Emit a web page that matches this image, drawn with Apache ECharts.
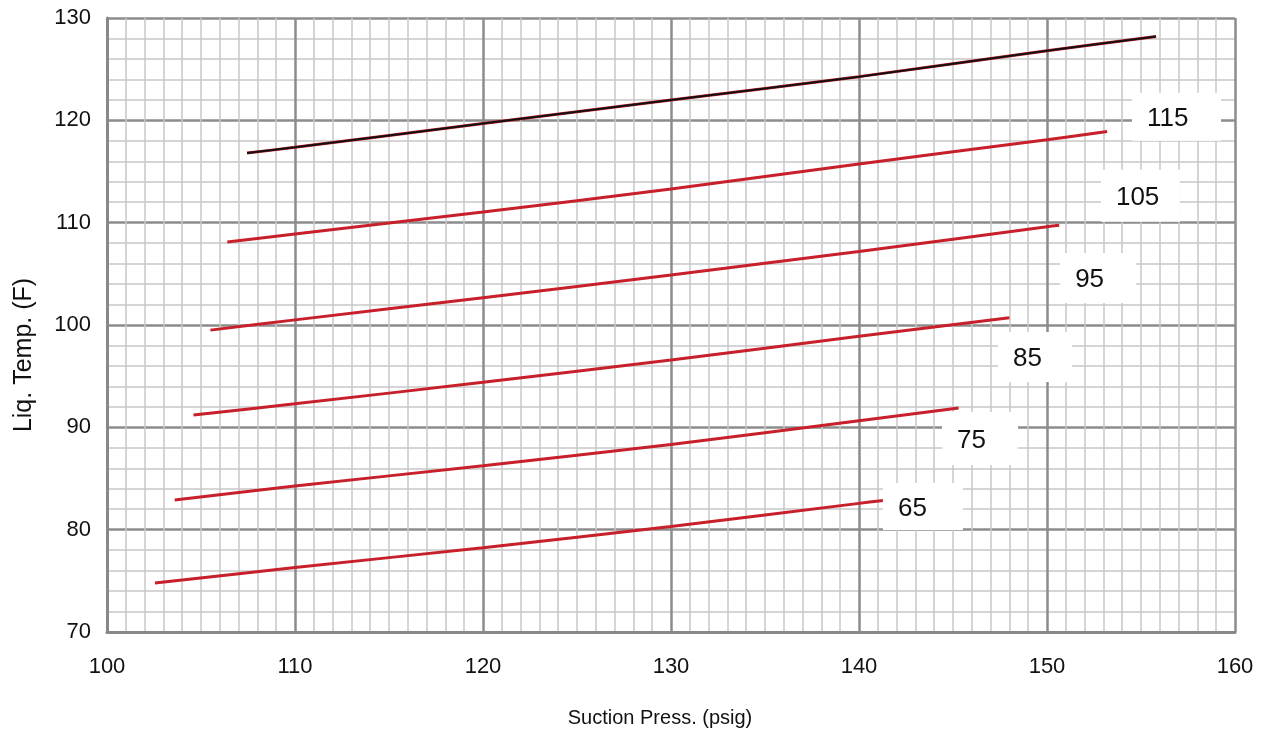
<!DOCTYPE html>
<html>
<head>
<meta charset="utf-8">
<script src="https://cdn.jsdelivr.net/npm/echarts@6/dist/echarts.min.js"></script>
<style>html,body{margin:0;padding:0;background:#fff}#c{width:1267px;height:738px}</style>
</head>
<body>
<div id="c"></div>
<script>
// Curve data: suction pressure (psig) vs liquid temperature (F), per outdoor temp
const press65  = [102.55, 110, 120, 130, 140, 141.3];
const temp65   = [74.79, 76.3, 78.24, 80.3, 82.57, 82.85];
const press75  = [103.6, 110, 120, 130, 140, 145.3];
const temp75   = [82.9, 84.26, 86.25, 88.33, 90.65, 91.9];
const press85  = [104.6, 110, 120, 130, 140, 148.0];
const temp85   = [91.2, 92.3, 94.4, 96.58, 98.9, 100.7];
const press95  = [105.5, 110, 120, 130, 140, 150, 150.65];
const temp95   = [99.5, 100.5, 102.67, 104.88, 107.19, 109.6, 109.75];
const press105 = [106.4, 110, 120, 130, 140, 150, 153.2];
const temp105  = [108.1, 108.9, 111.04, 113.29, 115.74, 118.1, 118.9];
const press115 = [107.45, 110, 120, 130, 140, 150, 155.8];
const temp115  = [116.8, 117.36, 119.68, 121.99, 124.27, 126.8, 128.2];

// Curve label annotations (anchor in data coordinates)
const labelText  = ['115', '105', '95', '85', '75', '65'];
const labelPress = [156.89, 154.97, 152.72, 149.36, 146.44, 143.40];
const labelTemp  = [120.34, 112.62, 104.6, 96.88, 88.92, 82.27];

const xTicks = [100, 110, 120, 130, 140, 150, 160];
const yTicks = [70, 80, 90, 100, 110, 120, 130];

const zip = (a, b) => a.map((v, i) => [v, b[i]]);
const RED = '#c8202a';
const FONT = '"Liberation Sans", Arial, sans-serif';

const redLine = (d) => ({
  type: 'line', data: d, symbol: 'none', smooth: 0.3,
  lineStyle: { color: RED, width: 3 }, z: 3, silent: true
});

const boxSizes = [[89, 48], [79, 52], [76, 50], [74, 50], [76, 53], [80, 47]];

const chart = echarts.init(document.getElementById('c'), null, { renderer: 'canvas' });
chart.setOption({
  animation: false,
  backgroundColor: '#fff',
  grid: { left: 107, right: 32, top: 18, bottom: 106, containLabel: false, outerBoundsMode: 'none' },
  xAxis: {
    type: 'value', min: xTicks[0], max: xTicks[xTicks.length - 1], interval: 10,
    name: 'Suction Press. (psig)', nameLocation: 'middle', nameGap: 76,
    nameTextStyle: { fontFamily: FONT, fontSize: 20, color: '#111', padding: [0, 22, 0, 0] },
    axisLine: { show: true, lineStyle: { color: '#888', width: 3 } },
    axisTick: { show: false },
    axisLabel: { fontFamily: FONT, fontSize: 22, color: '#111', margin: 24 },
    splitLine: { show: true, lineStyle: { color: '#8c8c8c', width: 2.5 } },
    minorTick: { show: false, splitNumber: 10 },
    minorSplitLine: { show: true, lineStyle: { color: '#c8c8c8', width: 1.5 } }
  },
  yAxis: {
    type: 'value', min: yTicks[0], max: yTicks[yTicks.length - 1], interval: 10,
    name: 'Liq. Temp. (F)', nameLocation: 'middle', nameGap: 70, nameRotate: 90,
    nameTextStyle: { fontFamily: FONT, fontSize: 25, color: '#111', padding: [0, 0, 0, -60] },
    axisLine: { show: true, lineStyle: { color: '#888', width: 3 } },
    axisTick: { show: false },
    axisLabel: { fontFamily: FONT, fontSize: 22, color: '#111', margin: 16 },
    splitLine: { show: true, lineStyle: { color: '#8c8c8c', width: 2.5 } },
    minorTick: { show: false, splitNumber: 5 },
    minorSplitLine: { show: true, lineStyle: { color: '#c8c8c8', width: 1.5 } }
  },
  series: [
    redLine(zip(press65, temp65)),
    redLine(zip(press75, temp75)),
    redLine(zip(press85, temp85)),
    redLine(zip(press95, temp95)),
    redLine(zip(press105, temp105)),
    redLine(zip(press115, temp115)),
    {
      type: 'line', data: zip(press115, temp115), symbol: 'none', smooth: 0.3,
      lineStyle: { color: '#111', width: 2 }, z: 4, silent: true
    },
    {
      type: 'scatter', z: 5, silent: true,
      data: labelText.map((t, i) => ({
        value: [labelPress[i], labelTemp[i]],
        symbolSize: boxSizes[i],
        label: { offset: [-boxSizes[i][0] / 2 + 15, 2] }
      })),
      symbol: 'rect',
      itemStyle: { color: '#fff', opacity: 1 },
      label: {
        show: true, position: 'inside', align: 'left',
        formatter: (p) => labelText[p.dataIndex],
        fontFamily: FONT, fontSize: 26, color: '#111'
      }
    }
  ]
});
</script>
</body>
</html>
